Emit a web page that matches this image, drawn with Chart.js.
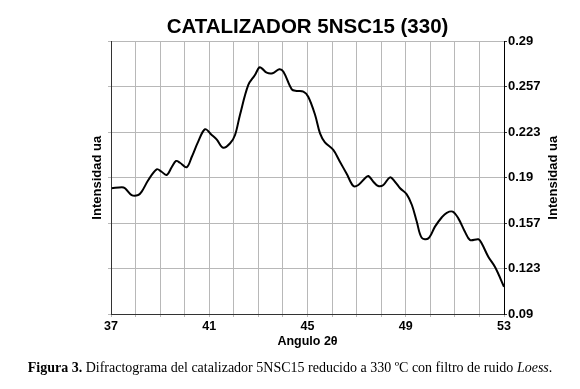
<!DOCTYPE html>
<html>
<head>
<meta charset="utf-8">
<script src="https://cdn.jsdelivr.net/npm/chart.js@4/dist/chart.umd.min.js"></script>
<style>
  html, body { margin: 0; padding: 0; background: #fff; }
  #wrap { position: relative; width: 580px; height: 389px; }
  #caption { position: absolute; left: 0; width: 580px; top: 360px; text-align: center;
    font-family: "Liberation Serif", "Times New Roman", serif; font-size: 14px; color: #000; white-space: nowrap; }
</style>
</head>
<body>
<div id="wrap">
  <canvas id="c" width="580" height="389"></canvas>
  <div id="caption"><b>Figura 3.</b> Difractograma del catalizador 5NSC15 reducido a 330 ºC con filtro de ruido <i>Loess</i>.</div>
</div>
<script>
const chartTitle = 'CATALIZADOR 5NSC15 (330)';
const xAxisTitle = 'Angulo 2θ';
const yAxisTitle = 'Intensidad ua';

const angles = [37.03, 37.44, 37.57, 37.84, 38.11, 38.25, 38.52, 38.86, 39.06, 39.27,
  39.47, 39.65, 39.81, 40.08, 40.29, 40.55, 40.83, 41.10, 41.30, 41.57,
  41.85, 42.05, 42.25, 42.59, 42.86, 43.04, 43.14, 43.34, 43.58, 43.85,
  44.02, 44.36, 44.56, 44.83, 45.03, 45.31, 45.51, 45.71, 46.05, 46.32,
  46.60, 46.87, 47.07, 47.34, 47.48, 47.68, 47.88, 48.09, 48.36, 48.56,
  48.77, 49.04, 49.25, 49.45, 49.65, 49.92, 50.19, 50.47, 50.67, 50.91,
  51.14, 51.41, 51.62, 51.96, 52.09, 52.36, 52.64, 53.00];

const intensity = [0.1823, 0.1830, 0.1823, 0.1773, 0.1773, 0.1798, 0.1883, 0.1962, 0.1944, 0.1920,
  0.1977, 0.2023, 0.2010, 0.1977, 0.2054, 0.2165, 0.2256, 0.2214, 0.2182, 0.2120,
  0.2153, 0.2214, 0.2361, 0.2581, 0.2654, 0.2711, 0.2703, 0.2671, 0.2667, 0.2696,
  0.2678, 0.2549, 0.2537, 0.2532, 0.2495, 0.2361, 0.2226, 0.2160, 0.2104, 0.2018,
  0.1927, 0.1839, 0.1847, 0.1896, 0.1913, 0.1871, 0.1839, 0.1847, 0.1903, 0.1871,
  0.1823, 0.1778, 0.1700, 0.1577, 0.1460, 0.1455, 0.1541, 0.1610, 0.1643, 0.1651,
  0.1602, 0.1504, 0.1443, 0.1448, 0.1419, 0.1320, 0.1243, 0.1100];

const xTickValues = [37, 41, 45, 49, 53];
const xTickLabels = ['37', '41', '45', '49', '53'];
const yTickValues = [0.09, 0.12333, 0.15667, 0.19, 0.22333, 0.25667, 0.29];
const yTickLabels = ['0.09', '0.123', '0.157', '0.19', '0.223', '0.257', '0.29'];

const points = angles.map((a, i) => ({ x: a, y: intensity[i] }));

const FONT = '"Liberation Sans", Arial, sans-serif';

const rightTitlePlugin = {
  id: 'rightTitle',
  afterDraw(chart) {
    const ctx = chart.ctx;
    const area = chart.chartArea;
    ctx.save();
    ctx.translate(553, (area.top + area.bottom) / 2);
    ctx.rotate(-Math.PI / 2);
    ctx.font = 'bold 13px ' + FONT;
    ctx.fillStyle = '#000';
    ctx.textAlign = 'center';
    ctx.textBaseline = 'middle';
    ctx.fillText(yAxisTitle, 0, 0);
    ctx.restore();
  }
};

new Chart(document.getElementById('c'), {
  type: 'line',
  data: {
    datasets: [{
      data: points,
      borderColor: '#000',
      borderWidth: 2,
      pointRadius: 0,
      tension: 0.35,
      fill: false
    }]
  },
  options: {
    responsive: false,
    animation: false,
    devicePixelRatio: 1,
    layout: { padding: { left: 35, right: 0, top: 0, bottom: 40 } },
    plugins: {
      legend: { display: false },
      tooltip: { enabled: false },
      title: {
        display: true,
        text: chartTitle,
        color: '#000',
        font: { family: FONT, size: 20.5, weight: 'bold', lineHeight: 1.2 },
        padding: { top: 15.5, bottom: 1.4 }
      }
    },
    scales: {
      x: {
        type: 'linear',
        position: 'bottom',
        min: 37, max: 53,
        afterFit(s) { s.height = 35; },
        afterBuildTicks(s) {
          const t = [];
          for (let v = 37; v <= 53; v++) t.push({ value: v });
          s.ticks = t;
        },
        ticks: {
          autoSkip: false, maxRotation: 0, padding: 2,
          color: '#000',
          font: { family: FONT, size: 12.5, weight: 'bold' },
          callback(v) { const i = xTickValues.indexOf(v); return i >= 0 ? xTickLabels[i] : ''; }
        },
        grid: { color: '#b8b8b8', lineWidth: 1, tickLength: 3 },
        border: { color: '#333', width: 1 },
        title: {
          display: true, text: xAxisTitle, color: '#000',
          font: { family: FONT, size: 12.5, weight: 'bold', lineHeight: 1.2 },
          padding: { top: 0, bottom: 0 }
        }
      },
      y: {
        type: 'linear',
        position: 'left',
        min: 0.09, max: 0.29,
        afterFit(s) { s.width = 76; },
        afterBuildTicks(s) { s.ticks = yTickValues.map(v => ({ value: v })); },
        ticks: { display: false },
        grid: { color: '#b8b8b8', lineWidth: 1, tickLength: 3 },
        border: { color: '#333', width: 1 },
        title: {
          display: true, text: yAxisTitle, color: '#000',
          font: { family: FONT, size: 13, weight: 'bold', lineHeight: 1.2 },
          padding: { top: 54.7, bottom: 0 }
        }
      },
      y2: {
        type: 'linear',
        position: 'right',
        min: 0.09, max: 0.29,
        afterFit(s) { s.width = 76; },
        afterBuildTicks(s) { s.ticks = yTickValues.map(v => ({ value: v })); },
        ticks: {
          color: '#000', padding: 1,
          font: { family: FONT, size: 13, weight: 'bold' },
          callback(v) { const i = yTickValues.indexOf(v); return i >= 0 ? yTickLabels[i] : ''; }
        },
        grid: { drawOnChartArea: false, tickLength: 3, color: '#333' },
        border: { color: '#000', width: 1 }
      }
    }
  },
  plugins: [rightTitlePlugin]
});
</script>
</body>
</html>
